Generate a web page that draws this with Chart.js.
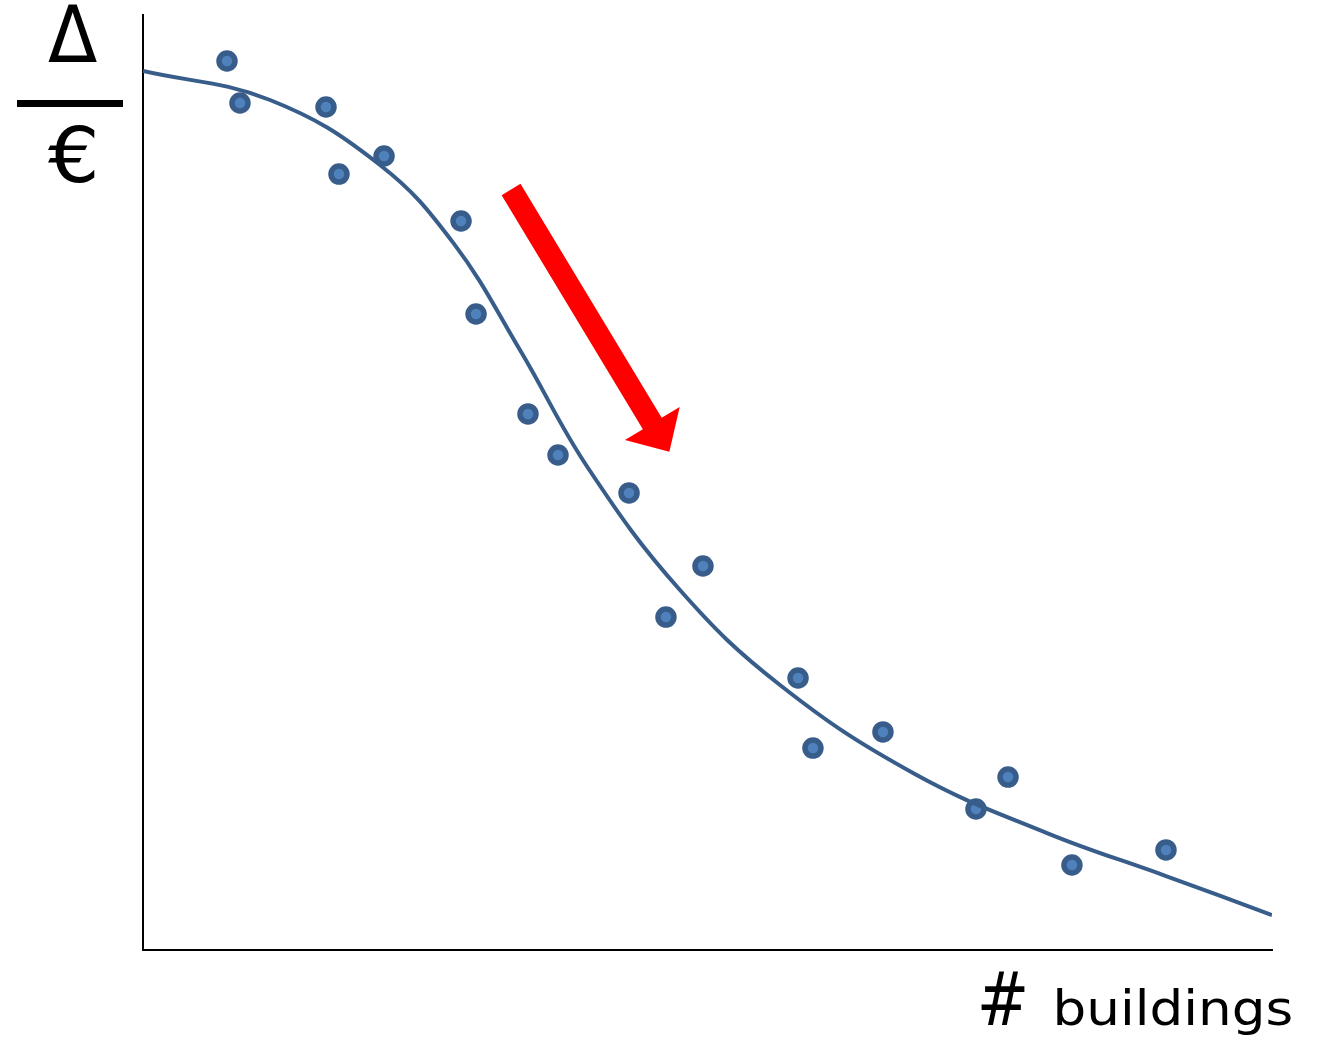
<!DOCTYPE html>
<html>
<head>
<meta charset="utf-8">
<script src="https://cdn.jsdelivr.net/npm/chart.js@4"></script>
<style>
  html, body { margin: 0; padding: 0; background: #fff; }
  #wrap { width: 1320px; height: 1042px; }
</style>
</head>
<body>
<div id="wrap"><canvas id="chart" width="1320" height="1042"></canvas></div>
<script>
// 观测点 (x = 建筑数量, y = Δ/€)
const pointX = [7.44, 8.59, 16.21, 17.36, 21.35, 28.17, 29.5, 34.1, 36.76, 43.05, 49.6, 46.32, 58.02, 59.34, 65.54, 73.78, 76.62, 82.28, 90.61];
const pointY = [95.08, 90.59, 90.16, 82.99, 84.92, 77.97, 68.02, 57.33, 52.94, 48.88, 41.07, 35.61, 29.09, 21.6, 23.32, 15.08, 18.5, 9.09, 10.7];

// 拟合曲线
const curveX = [0, 11.25, 20.99, 27.5, 33.39, 39.42, 47.56, 56.42, 68.2, 80.07, 90.61, 100];
const curveY = [94.01, 90.91, 83.96, 75.6, 64.17, 51.55, 38.5, 28.34, 18.93, 12.51, 7.91, 3.74];

// 红色箭头 (数据坐标)
const arrowFrom = [32.6, 81.34];
const arrowTo = [46.62, 53.29];

const blue = '#385d8a';

const toXY = (xs, ys) => xs.map((x, i) => ({ x: x, y: ys[i] }));

// 按目标宽度横向拉伸绘制文字
function fitText(ctx, text, left, right, baseline) {
    const m = ctx.measureText(text);
    const inkW = m.actualBoundingBoxLeft + m.actualBoundingBoxRight;
    const k = (right - left) / inkW;
    ctx.save();
    ctx.translate(left, baseline);
    ctx.scale(k, 1);
    ctx.fillText(text, m.actualBoundingBoxLeft, 0);
    ctx.restore();
}

// 箭头和文字标注
const annotations = {
    id: 'annotations',
    afterDatasetsDraw(chart) {
        const ctx = chart.ctx;
        const sx = chart.scales.x, sy = chart.scales.y;
        const x0 = sx.getPixelForValue(arrowFrom[0]), y0 = sy.getPixelForValue(arrowFrom[1]);
        const x1 = sx.getPixelForValue(arrowTo[0]), y1 = sy.getPixelForValue(arrowTo[1]);
        const len = Math.hypot(x1 - x0, y1 - y0);
        const shaft = 11, head = 32, headLen = 33;

        ctx.save();
        ctx.translate(x0, y0);
        ctx.rotate(Math.atan2(y1 - y0, x1 - x0));
        ctx.fillStyle = '#ff0000';
        ctx.beginPath();
        ctx.moveTo(0, -shaft);
        ctx.lineTo(len - headLen, -shaft);
        ctx.lineTo(len - headLen, -head);
        ctx.lineTo(len, 0);
        ctx.lineTo(len - headLen, head);
        ctx.lineTo(len - headLen, shaft);
        ctx.lineTo(0, shaft);
        ctx.closePath();
        ctx.fill();
        ctx.restore();

        ctx.save();
        ctx.fillStyle = '#000';
        ctx.textBaseline = 'alphabetic';
        ctx.textAlign = 'left';
        ctx.font = '78px "DejaVu Sans"';
        fitText(ctx, 'Δ', 48, 97, 62);
        ctx.font = '76px "DejaVu Sans"';
        fitText(ctx, '€', 48, 95, 182);
        ctx.fillRect(17, 100, 106, 7);

        ctx.font = '74px "DejaVu Sans"';
        fitText(ctx, '#', 981, 1025, 1025);
        ctx.font = '48px "DejaVu Sans"';
        fitText(ctx, 'buildings', 1057, 1291, 1025);
        ctx.restore();
    }
};

new Chart(document.getElementById('chart'), {
    type: 'scatter',
    data: {
        datasets: [{
            type: 'line',
            data: toXY(curveX, curveY),
            borderColor: blue,
            borderWidth: 4,
            pointRadius: 0,
            tension: 0.4,
            fill: false
        }, {
            data: toXY(pointX, pointY),
            pointBackgroundColor: '#4f81bd',
            pointBorderColor: blue,
            pointBorderWidth: 5.5,
            pointRadius: 8,
            pointHoverRadius: 8
        }]
    },
    options: {
        responsive: false,
        animation: false,
        layout: { padding: { left: 143, right: 48, top: 15, bottom: 92 } },
        plugins: {
            legend: { display: false },
            tooltip: { enabled: false }
        },
        scales: {
            x: {
                type: 'linear',
                min: 0,
                max: 100,
                grid: { display: false, drawTicks: false },
                ticks: { display: false },
                border: { display: true, color: '#000', width: 2 }
            },
            y: {
                type: 'linear',
                min: 0,
                max: 100,
                grid: { display: false, drawTicks: false },
                ticks: { display: false },
                border: { display: true, color: '#000', width: 2 }
            }
        }
    },
    plugins: [annotations]
});
</script>
</body>
</html>
